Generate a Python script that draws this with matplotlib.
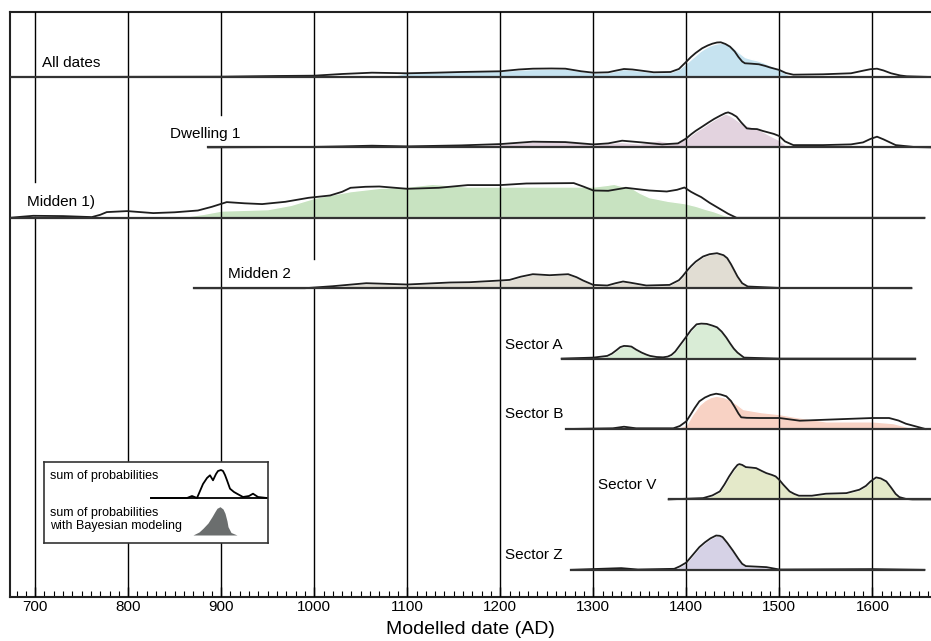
import matplotlib.pyplot as plt

plt.rcParams["font.family"] = ["Liberation Sans", "DejaVu Sans"]

# ---- data (years AD, relative probability heights) ----
row_names = ["All dates", "Dwelling 1", "Midden 1)", "Midden 2",
             "Sector A", "Sector B", "Sector V", "Sector Z"]
row_colors = ["#c6e3f0", "#e3d3df", "#c8e3c1", "#e1ddd3",
              "#d9ecd6", "#f8d2c4", "#e4e9c9", "#d6d2e6"]
row_spans = [(673, 1663), (886, 1663), (673, 1656), (871, 1642),
             (1266, 1646), (1271, 1663), (1381, 1663), (1276, 1656)]

all_sum_yr = [673, 900, 960, 1000, 1030, 1062, 1100, 1130, 1158, 1200, 1220, 1235, 1255, 1270,
              1287, 1300, 1316, 1325, 1333, 1342, 1352, 1365, 1383, 1392, 1400, 1405, 1410,
              1417, 1423, 1428, 1433, 1437, 1442, 1447, 1452, 1456, 1460, 1463, 1470, 1478,
              1485, 1490, 1500, 1507, 1515, 1547, 1577, 1590, 1598, 1605, 1612, 1620, 1630,
              1637, 1663]
all_sum_p = [0, 0.3, 1, 1.3, 3, 4.3, 3.7, 4.3, 5, 5.7, 7.5, 8.3, 8.5, 8.3,
             5.7, 4.3, 4.7, 6.5, 8, 7.5, 6.3, 4.7, 5, 8, 15.3, 20, 24,
             28.7, 31.5, 33.3, 34.5, 34.7, 33, 30.3, 25.5, 20, 15.5, 13.7, 13.3, 12.7,
             11, 9.5, 7, 4, 2.3, 2.7, 3.7, 6.3, 7.8, 8.3, 6.5, 3.7, 1.5,
             0.7, 0]
all_mod_yr = [1080, 1100, 1150, 1200, 1235, 1270, 1287, 1300, 1316, 1333, 1352, 1365, 1383,
              1392, 1400, 1405, 1410, 1415, 1420, 1425, 1430, 1435, 1440, 1445, 1450, 1456,
              1463, 1470, 1475, 1482, 1492, 1500, 1508, 1515]
all_mod_p = [0, 5, 6.3, 6.3, 8, 8.3, 6, 4.3, 4.7, 8, 6.3, 4.7, 5,
             8, 14, 18, 22, 26, 29, 31.5, 33, 34, 34.3, 32.5, 30, 25,
             20, 18, 17, 15, 11, 7.7, 3, 0]

dw_sum_yr = [886, 960, 1000, 1030, 1062, 1100, 1158, 1200, 1235, 1270, 1300, 1316, 1331, 1352,
             1374, 1391, 1400, 1405, 1410, 1417, 1424, 1430, 1437, 1442, 1445, 1449, 1454,
             1459, 1465, 1470, 1476, 1482, 1488, 1494, 1500, 1506, 1515, 1547, 1577, 1590,
             1598, 1605, 1612, 1625, 1646, 1663]
dw_sum_p = [0, 0.3, 0.5, 1, 1.7, 1, 2, 3.3, 5.7, 5.3, 3, 4, 6.7, 5,
            3, 4, 9, 13, 16.5, 20.7, 25, 28.5, 32, 34.3, 35, 33.5, 30.7,
            25, 19, 18.5, 18.3, 16.5, 15, 13.5, 11.3, 6, 2.3, 2.3, 3, 5,
            8.5, 10.7, 8, 2.3, 0.3, 0]
dw_mod_yr = [1100, 1150, 1200, 1235, 1260, 1280, 1300, 1330, 1350, 1370, 1385, 1400, 1410,
             1417, 1424, 1430, 1437, 1442, 1447, 1452, 1458, 1465, 1476, 1490, 1500, 1510]
dw_mod_p = [0, 1.5, 3.5, 6, 7.3, 6, 3, 5.5, 4, 7.3, 4.5, 9, 16,
            20, 24.5, 28, 31.5, 34, 32, 29, 25, 22, 19, 12, 7.3, 0]

m1_sum_yr = [673, 685, 698, 730, 761, 770, 777, 799, 827, 850, 875, 890, 906, 925, 944, 969,
             994, 1017, 1030, 1039, 1055, 1070, 1100, 1134, 1165, 1200, 1228, 1279, 1290,
             1300, 1316, 1335, 1360, 1379, 1390, 1398, 1405, 1410, 1416, 1425, 1435, 1445,
             1454, 1656]
m1_sum_p = [0, 1, 2, 1.7, 0.7, 3, 5.7, 6.7, 4.7, 5.5, 7.3, 11, 15.7, 14.5, 13.7, 16,
            20, 22.3, 26, 30, 31, 31.3, 29, 30, 32.7, 32.7, 34.3, 34.7, 31,
            27.3, 27, 30, 27.3, 26.3, 28, 30.3, 26, 23.5, 20.7, 15, 9.5, 4,
            0, 0]
m1_mod_yr = [850, 881, 900, 950, 975, 1000, 1020, 1039, 1070, 1100, 1127, 1165, 1241, 1300,
             1315, 1322, 1330, 1341, 1350, 1360, 1380, 1398, 1410, 1420, 1429, 1440, 1454]
m1_mod_p = [0, 4, 7.3, 8.7, 13, 20, 23.5, 26.7, 30, 31.3, 34, 31.3, 31.3, 31.3,
            33, 34, 32, 30, 25, 20.7, 17, 14.7, 12, 9, 6.7, 3, 0]

m2_sum_yr = [871, 990, 1020, 1056, 1100, 1146, 1167, 1200, 1210, 1222, 1235, 1253, 1273, 1282,
             1289, 1300, 1315, 1324, 1332, 1340, 1357, 1382, 1392, 1396, 1400, 1405, 1410,
             1418, 1425, 1433, 1440, 1444, 1448, 1452, 1455, 1460, 1466, 1500, 1642]
m2_sum_p = [0, 0, 2, 5, 3.7, 5.7, 6, 7.7, 8.3, 11.5, 14, 13, 14, 11,
            7.7, 3.3, 2.7, 5, 6.7, 5.5, 2.7, 3.3, 8, 12, 16.7, 22, 26.5,
            31.7, 34, 35, 33, 30, 24, 17, 11.7, 5, 1.7, 0.3, 0]

sa_sum_yr = [1266, 1300, 1315, 1320, 1325, 1329, 1333, 1337, 1341, 1346, 1352, 1357, 1361,
             1368, 1375, 1380, 1384, 1388, 1392, 1396, 1400, 1405, 1411, 1416, 1422, 1428,
             1433, 1438, 1443, 1447, 1451, 1455, 1462, 1500, 1646]
sa_sum_p = [0, 1, 2.7, 5, 8.5, 11.5, 12.7, 12.5, 12, 9, 6, 4, 2.7,
            1.6, 1.3, 2, 3.7, 7, 12, 17, 22, 28.5, 34.3, 35, 34.7, 33,
            31.3, 27, 21, 15.3, 10, 6, 1, 0, 0]

sb_sum_yr = [1271, 1321, 1333, 1346, 1386, 1393, 1400, 1405, 1409, 1414, 1420, 1426, 1432,
             1437, 1443, 1448, 1452, 1456, 1459, 1465, 1479, 1500, 1522, 1550, 1600, 1618,
             1628, 1636, 1657]
sb_sum_p = [0, 0.7, 2.3, 0.7, 0.7, 3, 7.7, 15, 21, 27.7, 31.5, 34, 35.3,
            34.5, 32.7, 28, 22, 15.5, 11.7, 11.2, 11, 11, 8.3, 9.3, 11, 11,
            8.5, 5.3, 0]
sb_mod_yr = [1386, 1400, 1406, 1414, 1420, 1426, 1432, 1440, 1447, 1454, 1461, 1480, 1500,
             1514, 1550, 1600, 1622, 1643, 1654]
sb_mod_p = [0, 4.3, 14, 24.3, 29, 32, 33.3, 32, 29.3, 25, 20, 17, 15,
            12.7, 7.7, 7.7, 6, 1, 0]

sv_sum_yr = [1381, 1418, 1428, 1436, 1441, 1446, 1451, 1455, 1457, 1460, 1464, 1470, 1475,
             1481, 1486, 1492, 1496, 1500, 1504, 1508, 1511, 1516, 1521, 1535, 1550, 1572,
             1586, 1593, 1598, 1604, 1609, 1615, 1620, 1625, 1629, 1636, 1643, 1663]
sv_sum_p = [0, 1.3, 4, 8, 15, 23, 30, 34.5, 35.3, 34.5, 32.3, 31.8, 31.3,
            28.5, 26.3, 24.5, 23, 19.5, 15, 11, 8, 5.5, 3.7, 3.7, 5.7, 6.3,
            9.7, 13.5, 18, 22, 21, 18, 12, 5.5, 2.3, 0.5, 0, 0]

sz_sum_yr = [1276, 1330, 1348, 1387, 1393, 1400, 1407, 1414, 1420, 1426, 1432, 1436, 1439,
             1444, 1450, 1456, 1460, 1464, 1486, 1500, 1600, 1656]
sz_sum_p = [0, 1.7, 0.3, 1, 3.5, 7.3, 15, 22.7, 27.5, 31.5, 34.3, 34, 32.7,
            27, 19.3, 11, 6, 3.7, 2.7, 0.3, 0.7, 0]

# modelled curves: A, V, Z and Midden 2 coincide with the summed curve
sum_yrs = [all_sum_yr, dw_sum_yr, m1_sum_yr, m2_sum_yr, sa_sum_yr, sb_sum_yr, sv_sum_yr, sz_sum_yr]
sum_ps = [all_sum_p, dw_sum_p, m1_sum_p, m2_sum_p, sa_sum_p, sb_sum_p, sv_sum_p, sz_sum_p]
mod_yrs = [all_mod_yr, dw_mod_yr, m1_mod_yr, m2_sum_yr, sa_sum_yr, sb_mod_yr, sv_sum_yr, sz_sum_yr]
mod_ps = [all_mod_p, dw_mod_p, m1_mod_p, m2_sum_p, sa_sum_p, sb_mod_p, sv_sum_p, sz_sum_p]

# legend sample curves
leg_sum_x = [107, 143, 148, 153, 156, 159, 163, 166, 169, 172, 174, 177, 179, 181, 183, 186,
             190, 193, 199, 205, 209, 214, 223]
leg_sum_p = [0, 0, 2, 0, 7, 14, 20, 22.7, 17.7, 24, 27, 28, 27, 23, 17.7, 9.3,
             6, 4.3, 1, 2, 4.3, 1, 0]
leg_mod_x = [149, 155, 159, 164, 168, 171, 173, 176, 179, 181, 183, 184, 187, 193]
leg_mod_p = [0, 3, 6.7, 12, 18.3, 23.5, 26.7, 28.3, 26, 21.7, 14, 8.3, 2.5, 0]

# ---- layout ----
row_gap = 70.4  # px between baselines, heights are px-like
label_pos = [(707, 0.2), (845, -0.81), (691, -1.78), (907, -2.80),
             (1205, -3.81), (1205, -4.79), (1305, -5.80), (1205, -6.79)]
grid_gaps = {700: (-1.99, -1.49), 900: (-0.99, -0.54), 1000: (-3.0, -2.585)}

fig = plt.figure(figsize=(9.31, 6.41), dpi=100)
ax = fig.add_axes([10 / 931, 44 / 641, 921 / 931, 585 / 641])
ax.set_xlim(673, 1663)
ax.set_ylim(-7.386, 0.923)

# grid lines with gaps behind some labels
for yr in range(700, 1700, 100):
    if yr in grid_gaps:
        lo, hi = grid_gaps[yr]
        ax.plot([yr, yr], [-7.386, lo], color="black", lw=1, zorder=3)
        ax.plot([yr, yr], [hi, 0.923], color="black", lw=1, zorder=3)
    else:
        ax.plot([yr, yr], [-7.386, 0.923], color="black", lw=1, zorder=3)

for i in range(len(row_names)):
    base = -i
    ys = [base + p / row_gap for p in mod_ps[i]]
    ax.fill_between(mod_yrs[i], base, ys, facecolor=row_colors[i],
                    edgecolor="white", lw=1.0, zorder=2)
    ax.plot(sum_yrs[i], [base + p / row_gap for p in sum_ps[i]],
            color="#1e1e1e", lw=1.3, zorder=4, solid_joinstyle="round")
    ax.plot(row_spans[i], [base, base], color="#333333", lw=1.6, zorder=4)
    ax.text(label_pos[i][0], label_pos[i][1], row_names[i], fontsize=11,
            va="center", ha="left", zorder=5)

ax.spines["right"].set_visible(False)
for s in ["left", "top", "bottom"]:
    ax.spines[s].set_linewidth(1.5)
    ax.spines[s].set_color("#222222")

ax.set_xticks(range(700, 1700, 100))
ax.set_xticks(range(680, 1670, 10), minor=True)
ax.tick_params(axis="x", which="major", direction="in", length=7, width=1,
               labelsize=11, pad=2.5)
ax.tick_params(axis="x", which="minor", direction="in", length=4, width=0.8)
ax.set_yticks([])
ax.set_xlabel("Modelled date (AD)", fontsize=14, labelpad=5)

# legend box
lax = fig.add_axes([44 / 931, 98 / 641, 224 / 931, 81 / 641])
lax.set_xlim(0, 224)
lax.set_ylim(0, 81)
lax.set_xticks([])
lax.set_yticks([])
for s in lax.spines.values():
    s.set_linewidth(1.2)
    s.set_color("#333333")
lax.text(6, 67, "sum of probabilities", fontsize=9, va="center")
lax.text(6, 30, "sum of probabilities", fontsize=9, va="center")
lax.text(6, 17, "with Bayesian modeling", fontsize=9, va="center")
lax.plot(leg_sum_x, [45 + p for p in leg_sum_p], color="black", lw=1.3,
         solid_joinstyle="round")
lax.plot([107, 224], [45, 45], color="black", lw=1.3)
lax.fill_between(leg_mod_x, 8, [8 + p for p in leg_mod_p], color="#6b6e6e", lw=0)

plt.savefig("out.png", dpi=100)
